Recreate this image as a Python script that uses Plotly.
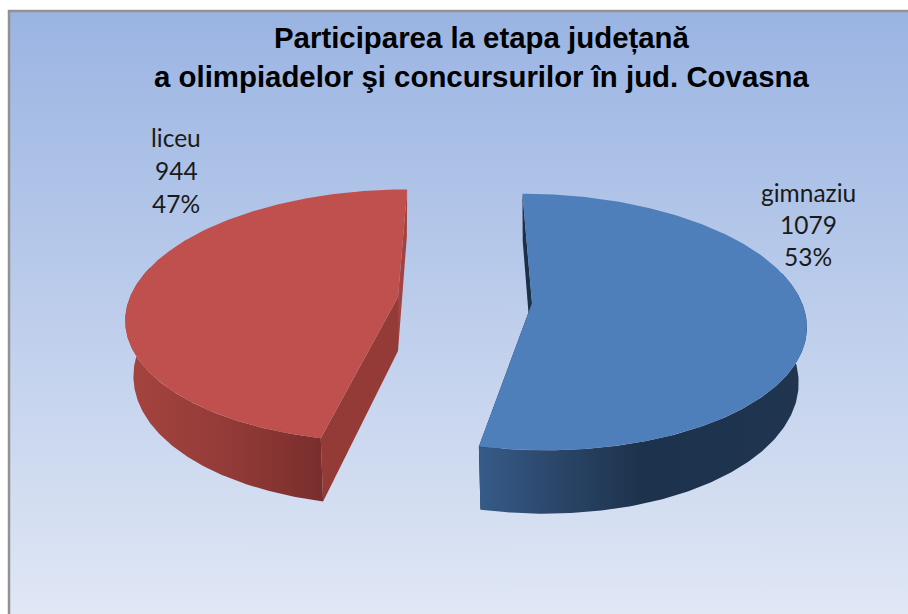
import numpy as np
import plotly.graph_objects as go

# --- data ---
categories = ["gimnaziu", "liceu"]
values = [1079, 944]
title_lines = ["Participarea la etapa județană", "a olimpiadelor şi concursurilor în jud. Covasna"]

total = sum(values)
shares = [v / total for v in values]
percents = [round(100 * s) for s in shares]

# --- styling of the 3-D projection (pixel-like chart space) ---
W, H = 908, 614
K = 0.148                # perspective
DEPTH = 54               # extrusion
BOTTOM_SCALE = 0.97
GEOM = {
    "gimnaziu": dict(ax=532, ay=303, b=270, a=125.5, s=-11.0),
    "liceu": dict(ax=398, ay=297, b=268, a=123.5, s=10.5),
}
TOP = {"gimnaziu": "#4f7fba", "liceu": "#c0504d"}
START_FACE = {"gimnaziu": "#1c3048", "liceu": "#943b38"}
END_FACE = {"gimnaziu": "#1c3048", "liceu": "#a3433f"}
WALL = {
    "gimnaziu": [[0, "#365b88"], [0.25, "#2a4568"], [0.5, "#1d324c"], [1, "#1f3550"]],
    "liceu": [[0, "#a6443f"], [0.5, "#943b38"], [1, "#792e2c"]],
}


def rim(g, theta, bottom=False):
    u, v = np.sin(theta), np.cos(theta)
    w = 1 + K * v
    scale = BOTTOM_SCALE if bottom else 1.0
    x = g["ax"] + scale * (g["b"] * u + g["s"] * v) / w
    y = g["ay"] - g["a"] * v / w
    if bottom:
        y = y + DEPTH / w
    return x, y


def poly(x, y, color=None, gradient=None):
    t = dict(x=list(x), y=list(y), mode="lines", fill="toself", line=dict(width=0),
             hoverinfo="skip", showlegend=False)
    if gradient:
        t["fillgradient"] = dict(type="horizontal", colorscale=gradient)
    else:
        t["fillcolor"] = color
    return go.Scatter(**t)


fig = go.Figure()

# background panel
fig.add_trace(go.Scatter(
    x=[10, W, W, 10, 10], y=[11, 11, H, H, 11], mode="lines", fill="toself",
    line=dict(width=0), hoverinfo="skip", showlegend=False,
    fillgradient=dict(type="vertical", colorscale=[[0, "#e0e7f5"], [1, "#9ab4e2"]])))
fig.add_trace(go.Scatter(x=[9, 9, W], y=[H, 11, 11], mode="lines", hoverinfo="skip", showlegend=False,
                         line=dict(color="#929292", width=2.5)))

# slices
start = 0.0
for name, share in zip(categories, shares):
    g = GEOM[name]
    end = start + 2 * np.pi * share
    bx, by = g["ax"], g["ay"]
    sx0, sy0 = rim(g, start)
    ex0, ey0 = rim(g, end)
    sx1, sy1 = rim(g, start, True)
    ex1, ey1 = rim(g, end, True)
    abx, aby = bx, by + DEPTH

    # cut faces
    fig.add_trace(poly([sx0, bx, abx, sx1, sx0], [sy0, by, aby, sy1, sy0], color=START_FACE[name]))
    fig.add_trace(poly([ex0, bx, abx, ex1, ex0], [ey0, by, aby, ey1, ey0], color=END_FACE[name]))

    # outer wall: the part of the rim facing the viewer
    lo = max(start, np.pi / 2 - 0.25)
    hi = min(end, 3 * np.pi / 2 + 0.25)
    th = np.linspace(lo, hi, 160)
    x0, y0 = rim(g, th)
    x1, y1 = rim(g, th, True)
    fig.add_trace(poly(np.r_[x0, x1[::-1]], np.r_[y0, y1[::-1]], gradient=WALL[name]))

    # top surface
    th = np.linspace(start, end, 300)
    tx, ty = rim(g, th)
    fig.add_trace(poly(np.r_[bx, tx, bx], np.r_[by, ty, by], color=TOP[name]))
    start = end

# title
annotations = []
for line, yy in zip(title_lines, [37.5, 76.5]):
    annotations.append(dict(x=481.5, y=yy, text=f"<b>{line}</b>", showarrow=False, xref="x", yref="y",
                            font=dict(family="Liberation Sans", size=29.4, color="#000000")))

# data labels
LABEL_POS = {"gimnaziu": (808, [192, 224, 256]), "liceu": (176, [137, 170, 203])}
for name, val, pct in zip(categories, values, percents):
    lx, ys = LABEL_POS[name]
    for txt, yy in zip([name, str(val), f"{pct}%"], ys):
        annotations.append(dict(x=lx, y=yy, text=txt, showarrow=False, xref="x", yref="y",
                                font=dict(family="Lato", size=24.5, color="#1a1a1a")))

fig.update_layout(
    width=W, height=H, margin=dict(l=0, r=0, t=0, b=0), autosize=False,
    paper_bgcolor="#ffffff", plot_bgcolor="#ffffff", showlegend=False,
    xaxis=dict(range=[0, W], visible=False, fixedrange=True),
    yaxis=dict(range=[H, 0], visible=False, fixedrange=True),
    annotations=annotations,
)
fig.write_html("out.html", config=dict(displayModeBar=False),
               post_script="document.body.style.margin='0';document.body.style.overflow='hidden';")
